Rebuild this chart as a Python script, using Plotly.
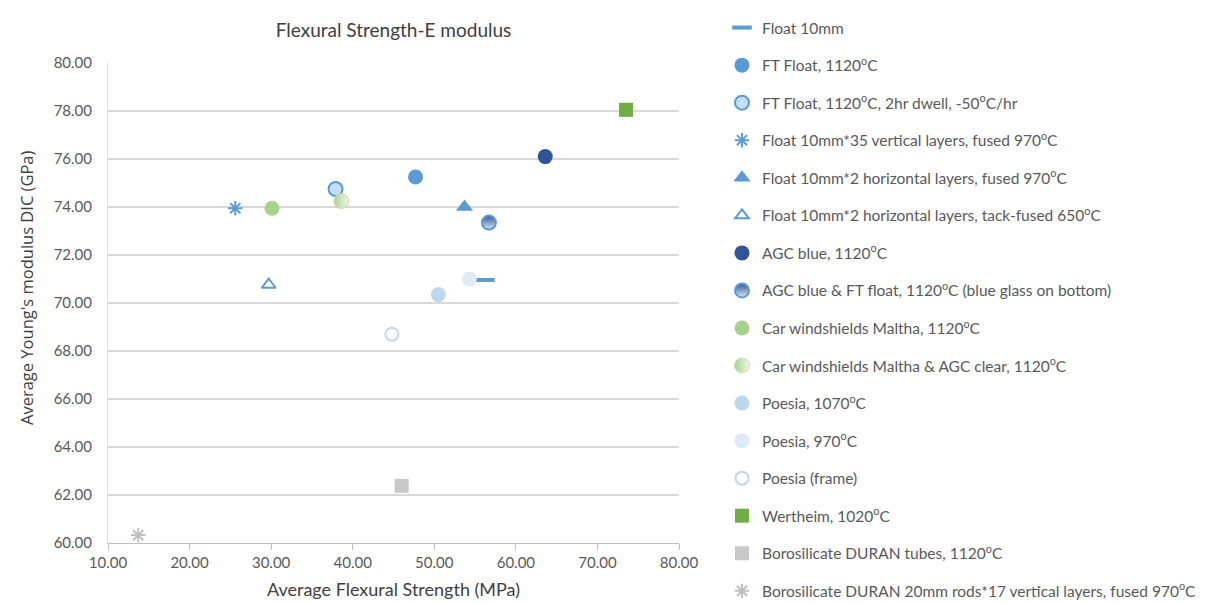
import plotly.graph_objects as go

# ---- data ----
names = [
    "Float 10mm",
    "FT Float, 1120<sup>o</sup>C",
    "FT Float, 1120<sup>o</sup>C, 2hr dwell, -50<sup>o</sup>C/hr",
    "Float 10mm*35 vertical layers, fused 970<sup>o</sup>C",
    "Float 10mm*2 horizontal layers, fused 970<sup>o</sup>C",
    "Float 10mm*2 horizontal layers, tack-fused 650<sup>o</sup>C",
    "AGC blue, 1120<sup>o</sup>C",
    "AGC blue &amp; FT float, 1120<sup>o</sup>C (blue glass on bottom)",
    "Car windshields Maltha, 1120<sup>o</sup>C",
    "Car windshields Maltha &amp; AGC clear, 1120<sup>o</sup>C",
    "Poesia, 1070<sup>o</sup>C",
    "Poesia, 970<sup>o</sup>C",
    "Poesia (frame)",
    "Wertheim, 1020<sup>o</sup>C",
    "Borosilicate DURAN tubes, 1120<sup>o</sup>C",
    "Borosilicate DURAN 20mm rods*17 vertical layers, fused 970<sup>o</sup>C",
]
flexural = [56.2, 47.7, 37.9, 25.6, 53.7, 29.7, 63.6, 56.7, 30.1, 38.6, 50.5, 54.3, 44.8, 73.5, 46.0, 13.7]
emod = [70.96, 75.25, 74.75, 73.95, 74.0, 70.76, 76.1, 73.35, 73.95, 74.25, 70.35, 71.0, 68.7, 78.05, 62.38, 60.33]

# ---- styles ----
styles = [
    dict(symbol="line-ew", size=14, color="#5B9BD5", line=dict(color="#5B9BD5", width=4)),
    dict(symbol="circle", size=15, color="#5B9BD5", line=dict(color="#5B9BD5", width=0)),
    dict(symbol="circle", size=14, color="#C6DCF1", line=dict(color="#5B9BD5", width=2)),
    dict(symbol="asterisk-open", size=12, color="#5B9BD5", line=dict(color="#5B9BD5", width=2)),
    dict(symbol="triangle-up", size=15, color="#5B9BD5", line=dict(color="#5B9BD5", width=0)),
    dict(symbol="triangle-up-open", size=12, color="#5B9BD5", line=dict(color="#5B9BD5", width=2)),
    dict(symbol="circle", size=15, color="#2F5597", line=dict(color="#2F5597", width=0)),
    dict(symbol="circle", size=14, color="#2F5597", line=dict(color="#5B9BD5", width=2),
         gradient=dict(type="vertical", color="#DDE8F5")),
    dict(symbol="circle", size=15, color="#A9D18E", line=dict(color="#A9D18E", width=0)),
    dict(symbol="circle", size=15, color="#A9D18E", line=dict(color="#C5E0B4", width=1),
         gradient=dict(type="horizontal", color="#F0F7EA")),
    dict(symbol="circle", size=15, color="#BDD7EE", line=dict(color="#BDD7EE", width=0)),
    dict(symbol="circle", size=15, color="#DEEBF7", line=dict(color="#DEEBF7", width=0)),
    dict(symbol="circle-open", size=13, color="#BDD7EE", line=dict(color="#BDD7EE", width=2)),
    dict(symbol="square", size=14, color="#70AD47", line=dict(color="#70AD47", width=0)),
    dict(symbol="square", size=14, color="#C9C9C9", line=dict(color="#C9C9C9", width=0)),
    dict(symbol="asterisk-open", size=12, color="#BFBFBF", line=dict(color="#BFBFBF", width=2)),
]

fig = go.Figure()
for i, (n, xv, yv, st) in enumerate(zip(names, flexural, emod, styles)):
    fig.add_trace(go.Scatter(
        x=[xv], y=[yv], mode="markers", name=n, marker=st,
        legendgroup=f"g{i}",
    ))

font_family = "Lato, 'Open Sans', sans-serif"
fig.update_layout(
    width=1210, height=603,
    paper_bgcolor="white", plot_bgcolor="white",
    margin=dict(l=100, r=539, t=55, b=68, autoexpand=False),
    font=dict(family=font_family, color="#595959", size=15),
    title=dict(text="Flexural Strength-E modulus", x=385.5/1210, xref="container", xanchor="center",
               y=1-22/603, yref="container", yanchor="middle",
               font=dict(size=19, color="#404040", family=font_family)),
    showlegend=True,
    legend=dict(xref="container", yref="container", x=714/1210, y=1-3/603,
                xanchor="left", yanchor="top", traceorder="grouped", tracegroupgap=14.4,
                font=dict(size=15.5, color="#595959", family=font_family),
                itemwidth=30, bgcolor="rgba(0,0,0,0)", maxheight=800),
    xaxis=dict(range=[10, 80], dtick=10, tickformat=".2f", showgrid=False,
               showline=True, linecolor="#BFBFBF", linewidth=1,
               ticks="outside", ticklen=6, tickcolor="#BFBFBF", zeroline=False,
               title=dict(text="Average Flexural Strength (MPa)", font=dict(size=18, color="#404040"), standoff=13),
               tickfont=dict(size=15, color="#595959")),
    yaxis=dict(range=[60, 80], dtick=2, tickformat=".2f", showgrid=True, gridcolor="#D9D9D9", gridwidth=1.5,
               showline=True, linecolor="#D9D9D9", linewidth=1, zeroline=False, ticks="",
               ticklabelstandoff=12,
               tickfont=dict(size=15, color="#595959")),
    annotations=[dict(text="Average Young's modulus DIC (GPa)", textangle=-90,
                      xref="paper", yref="paper", x=(18-100)/571, y=(535-280)/480,
                      xanchor="center", yanchor="middle", showarrow=False,
                      font=dict(size=16.5, color="#404040", family="'Open Sans', sans-serif"))],
)

fig.write_html("out.html")
